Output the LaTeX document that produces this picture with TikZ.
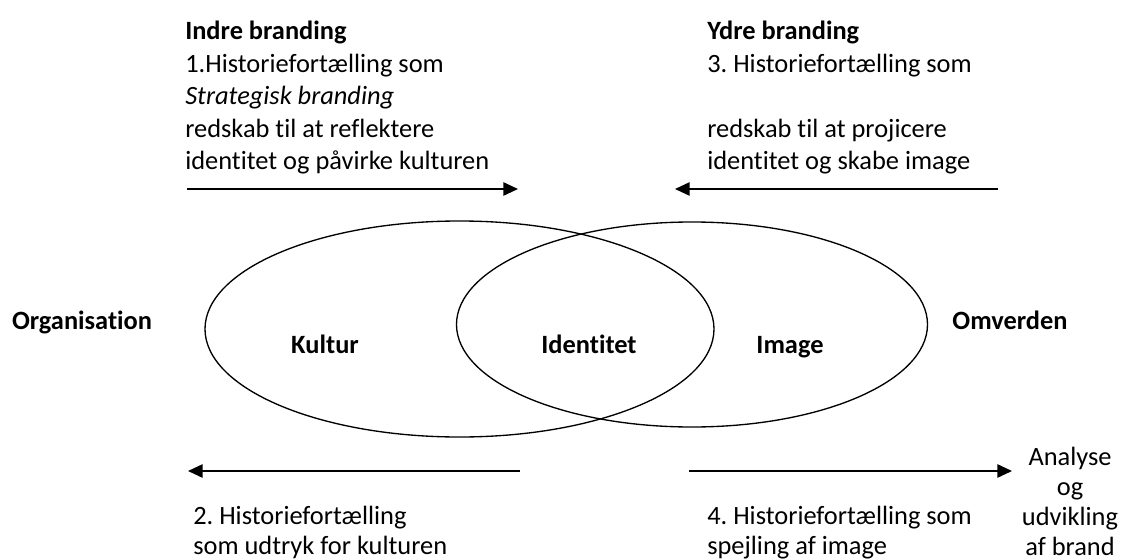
\documentclass[tikz,border=0pt]{standalone}
\usepackage{fontspec}
\setmainfont{Carlito}[Ligatures=NoCommon]
\frenchspacing
\usetikzlibrary{shapes.geometric,arrows.meta}

\begin{document}
\begin{tikzpicture}[x=0.75pt,y=-0.75pt,
    >={Triangle[length=11pt,width=10pt]},
    font=\fontsize{19.8pt}{24.4pt}\selectfont]
    \useasboundingbox (0,0) rectangle (1128,560);

    \begin{scope}[inner sep=0pt,line width=1pt]
      \tikzstyle{every node}=[draw,ellipse]
      \node[minimum width=381.75pt,minimum height=162pt] (kul) at (459.5,329) {};
      \node[minimum width=353.25pt,minimum height=153.75pt] (img) at (692,324.5) {};
    \end{scope}

    \begin{scope}[font=\fontsize{19.8pt}{24.4pt}\selectfont\bfseries]
      \tikzstyle{every node}=[anchor=base,inner sep=0pt]
      \node (Kultur)    at (325,353) {Kultur};
      \node (Identitet) at (589,353) {Identitet};
      \node (Image)     at (790,353) {Image};
      \node (Org)       at (82,329)  {Organisation};
      \node (Omv)       at (1010,329) {Omverden};
    \end{scope}

    \node[anchor=north west,align=left,inner sep=0pt] (indre) at (185,21)
      {\textbf{Indre branding}\\1.Historiefortælling som\\\textit{Strategisk branding}\\redskab til at reflektere\\identitet og påvirke kulturen};
    \node[anchor=north west,align=left,inner sep=0pt] (ydre) at (707,21)
      {\textbf{Ydre branding}\\3. Historiefortælling som\\\mbox{}\\redskab til at projicere\\identitet og skabe image};

    \begin{scope}[font=\fontsize{19.8pt}{22.5pt}\selectfont]
      \node[anchor=north west,align=left,inner sep=0pt] (udtryk) at (193,506)
        {2. Historiefortælling\\som udtryk for kulturen};
      \node[anchor=north west,align=left,inner sep=0pt] (spejl) at (707,506)
        {4. Historiefortælling som\\spejling af image};
      \node[anchor=north,align=center,inner sep=0pt] (brand) at (1070,447)
        {Analyse\\og\\udvikling\\af brand};
    \end{scope}

    \coordinate (a1) at (187,189);
    \coordinate (b1) at (518,189);
    \coordinate (a3) at (998,189);
    \coordinate (b3) at (675,189);
    \coordinate (a2) at (520,471);
    \coordinate (b2) at (188,471);
    \coordinate (a4) at (689,471);
    \coordinate (b4) at (1012,471);

    \draw[line width=1.25pt,->] (a1) -- (b1);
    \draw[line width=1.25pt,->] (a3) -- (b3);
    \draw[line width=1.25pt,->] (a2) -- (b2);
    \draw[line width=1.25pt,->] (a4) -- (b4);
  \end{tikzpicture}
\end{document}
